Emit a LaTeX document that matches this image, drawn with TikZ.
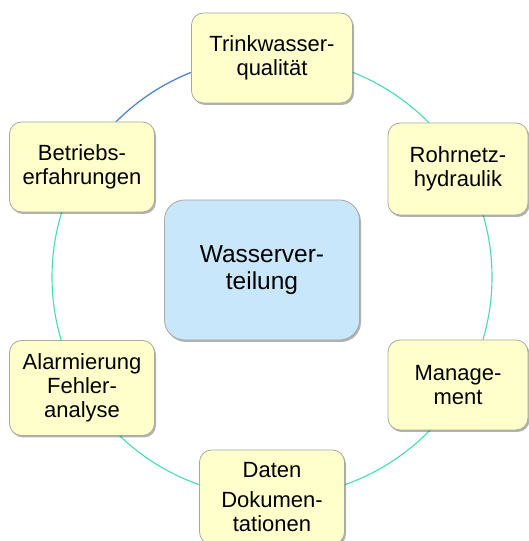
\documentclass[tikz,border=0pt]{standalone}
\usepackage{fontspec}
\setmainfont{Liberation Sans}
\usetikzlibrary{shadows}
\definecolor{cbox}{HTML}{FFFFCC}
\definecolor{ccore}{HTML}{C9E7FB}
\definecolor{cedge}{HTML}{A8A8A0}
\definecolor{cring}{HTML}{44DDB2}
\definecolor{cblue}{HTML}{5B7DE6}
\def\rr{220}

\begin{document}
\begin{tikzpicture}[x=1pt, y=1pt, line join=round,
  outerbox/.style={draw=cedge, fill=cbox, line width=0.8pt,
    rounded corners=12pt, minimum width=145pt, minimum height=90pt,
    align=center, inner sep=4pt,
    font=\fontsize{22}{24}\selectfont,
    drop shadow={shadow xshift=1.5pt, shadow yshift=-2pt,
      fill=black, opacity=0.3}},
  corebox/.style={outerbox, fill=ccore, rounded corners=20pt,
    minimum width=195pt, minimum height=140pt,
    font=\fontsize{24.5}{27}\selectfont}]

\useasboundingbox (0,0) rectangle (529,541);

% =================== ring behind the boxes ===================
\coordinate (ctr) at (272,264);
\draw[cring, line width=1.1pt] (ctr) circle[radius=\rr];
\draw[cblue, line width=1.1pt] ([shift={(90:\rr)}]ctr)
  arc[start angle=90, end angle=150, radius=\rr];

% =================== centre ===================
\node[corebox] (wv) at (262,271) {Wasserver-\\teilung};

% =================== six boxes on the ring ===================
\node[outerbox, minimum width=161pt] (tq) at (272,483) {Trinkwasser-\\qualit\"at};
\node[outerbox, minimum width=140pt, minimum height=92pt] (rh) at (458,372) {Rohrnetz-\\hydraulik};
\node[outerbox, minimum width=140pt] (mg) at (458,156) {Manage-\\ment};
\node[outerbox, minimum height=94pt] (dd) at (272,44) {Daten\\[6pt]Dokumen-\\tationen};
\node[outerbox, minimum height=95pt] (af) at (82,153) {Alarmierung\\Fehler-\\analyse};
\node[outerbox] (be) at (82,374) {Betriebs-\\erfahrungen};

\end{tikzpicture}
\end{document}
